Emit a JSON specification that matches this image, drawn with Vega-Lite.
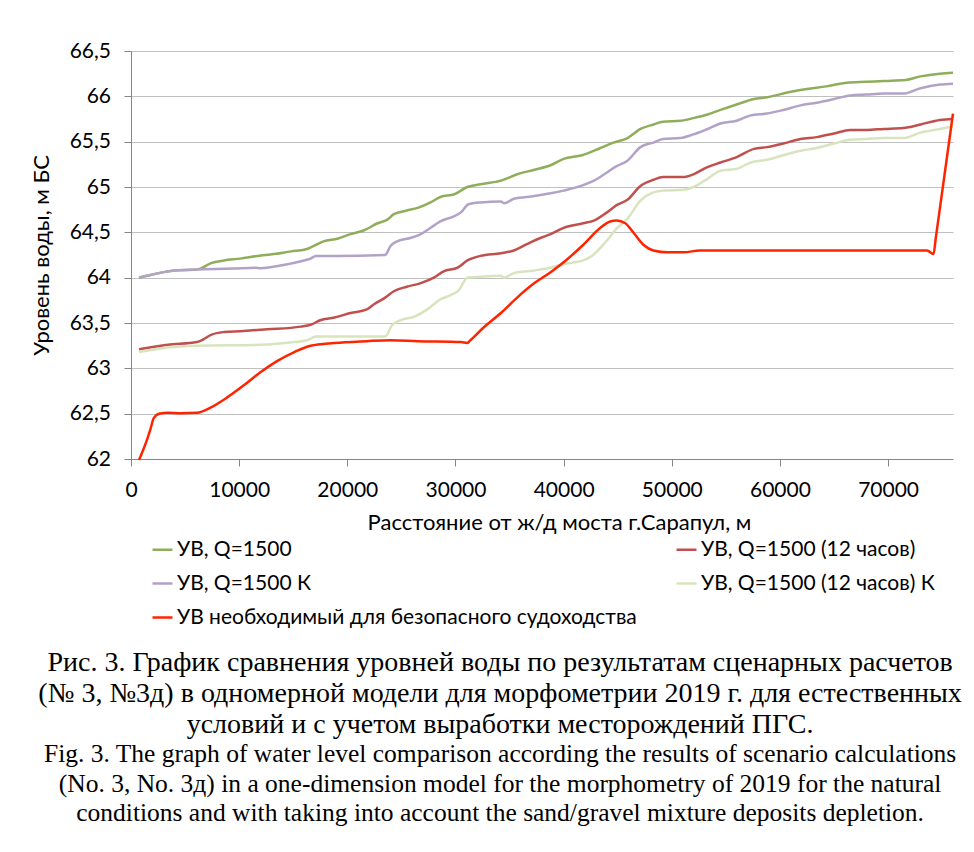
{
  "$schema": "https://vega.github.io/schema/vega-lite/v6.json",
  "width": 822,
  "height": 408,
  "padding": {"left": 30, "top": 40, "right": 12, "bottom": 10},
  "background": "white",
  "config": {
    "font": "Lato",
    "view": {"stroke": null},
    "axis": {"labelFont": "Lato", "titleFont": "Lato", "labelFontSize": 21, "titleFontSize": 22, "titleFontWeight": "normal", "labelColor": "#000000", "titleColor": "#000000"}
  },
  "title": {
    "text": ["Рис. 3. График сравнения уровней воды по результатам сценарных расчетов", "(№ 3, №3д) в одномерной модели для морфометрии 2019 г. для естественных", "условий и с учетом выработки месторождений ПГС."],
    "subtitle": ["Fig. 3. The graph of water level comparison according the results of scenario calculations", "(No. 3, No. 3д) in a one-dimension model for the morphometry of 2019 for the natural", "conditions and with taking into account the sand/gravel mixture deposits depletion."],
    "orient": "bottom",
    "anchor": "middle",
    "frame": "bounds",
    "dx": 6,
    "font": "Liberation Serif",
    "fontSize": 28,
    "fontWeight": "normal",
    "lineHeight": 31,
    "color": "#000000",
    "subtitleFont": "Liberation Serif",
    "subtitleFontSize": 25.5,
    "subtitleLineHeight": 29.5,
    "subtitleColor": "#000000",
    "subtitlePadding": 3,
    "offset": 1
  },
  "data": {
    "values": [
      {"s": "УВ, Q=1500", "x": 740, "y": 64.0},
      {"s": "УВ, Q=1500", "x": 1800, "y": 64.03},
      {"s": "УВ, Q=1500", "x": 4000, "y": 64.08},
      {"s": "УВ, Q=1500", "x": 6100, "y": 64.09},
      {"s": "УВ, Q=1500", "x": 6600, "y": 64.11},
      {"s": "УВ, Q=1500", "x": 7400, "y": 64.16},
      {"s": "УВ, Q=1500", "x": 8600, "y": 64.19},
      {"s": "УВ, Q=1500", "x": 10100, "y": 64.21},
      {"s": "УВ, Q=1500", "x": 11700, "y": 64.24},
      {"s": "УВ, Q=1500", "x": 13200, "y": 64.26},
      {"s": "УВ, Q=1500", "x": 14800, "y": 64.29},
      {"s": "УВ, Q=1500", "x": 16100, "y": 64.31},
      {"s": "УВ, Q=1500", "x": 16900, "y": 64.35},
      {"s": "УВ, Q=1500", "x": 17800, "y": 64.4},
      {"s": "УВ, Q=1500", "x": 19100, "y": 64.43},
      {"s": "УВ, Q=1500", "x": 20300, "y": 64.48},
      {"s": "УВ, Q=1500", "x": 21500, "y": 64.52},
      {"s": "УВ, Q=1500", "x": 22800, "y": 64.6},
      {"s": "УВ, Q=1500", "x": 23700, "y": 64.64},
      {"s": "УВ, Q=1500", "x": 24300, "y": 64.7},
      {"s": "УВ, Q=1500", "x": 25500, "y": 64.74},
      {"s": "УВ, Q=1500", "x": 26500, "y": 64.77},
      {"s": "УВ, Q=1500", "x": 27700, "y": 64.83},
      {"s": "УВ, Q=1500", "x": 28600, "y": 64.89},
      {"s": "УВ, Q=1500", "x": 29900, "y": 64.92},
      {"s": "УВ, Q=1500", "x": 31100, "y": 65.0},
      {"s": "УВ, Q=1500", "x": 32300, "y": 65.03},
      {"s": "УВ, Q=1500", "x": 34200, "y": 65.07},
      {"s": "УВ, Q=1500", "x": 35700, "y": 65.14},
      {"s": "УВ, Q=1500", "x": 37300, "y": 65.19},
      {"s": "УВ, Q=1500", "x": 38800, "y": 65.24},
      {"s": "УВ, Q=1500", "x": 40000, "y": 65.31},
      {"s": "УВ, Q=1500", "x": 41700, "y": 65.35},
      {"s": "УВ, Q=1500", "x": 43400, "y": 65.43},
      {"s": "УВ, Q=1500", "x": 44600, "y": 65.49},
      {"s": "УВ, Q=1500", "x": 45900, "y": 65.54},
      {"s": "УВ, Q=1500", "x": 47100, "y": 65.64},
      {"s": "УВ, Q=1500", "x": 48300, "y": 65.69},
      {"s": "УВ, Q=1500", "x": 49200, "y": 65.72},
      {"s": "УВ, Q=1500", "x": 50800, "y": 65.73},
      {"s": "УВ, Q=1500", "x": 52000, "y": 65.76},
      {"s": "УВ, Q=1500", "x": 53300, "y": 65.8},
      {"s": "УВ, Q=1500", "x": 54500, "y": 65.85},
      {"s": "УВ, Q=1500", "x": 56000, "y": 65.91},
      {"s": "УВ, Q=1500", "x": 57600, "y": 65.97},
      {"s": "УВ, Q=1500", "x": 58800, "y": 65.99},
      {"s": "УВ, Q=1500", "x": 61000, "y": 66.05},
      {"s": "УВ, Q=1500", "x": 62500, "y": 66.08},
      {"s": "УВ, Q=1500", "x": 64300, "y": 66.11},
      {"s": "УВ, Q=1500", "x": 66200, "y": 66.15},
      {"s": "УВ, Q=1500", "x": 68000, "y": 66.16},
      {"s": "УВ, Q=1500", "x": 69600, "y": 66.17},
      {"s": "УВ, Q=1500", "x": 71600, "y": 66.18},
      {"s": "УВ, Q=1500", "x": 73000, "y": 66.22},
      {"s": "УВ, Q=1500", "x": 74800, "y": 66.25},
      {"s": "УВ, Q=1500", "x": 76000, "y": 66.26},

      {"s": "УВ, Q=1500 (12 часов)", "x": 740, "y": 63.21},
      {"s": "УВ, Q=1500 (12 часов)", "x": 3400, "y": 63.26},
      {"s": "УВ, Q=1500 (12 часов)", "x": 6100, "y": 63.29},
      {"s": "УВ, Q=1500 (12 часов)", "x": 6700, "y": 63.32},
      {"s": "УВ, Q=1500 (12 часов)", "x": 7400, "y": 63.37},
      {"s": "УВ, Q=1500 (12 часов)", "x": 8600, "y": 63.4},
      {"s": "УВ, Q=1500 (12 часов)", "x": 10100, "y": 63.41},
      {"s": "УВ, Q=1500 (12 часов)", "x": 12600, "y": 63.43},
      {"s": "УВ, Q=1500 (12 часов)", "x": 15700, "y": 63.46},
      {"s": "УВ, Q=1500 (12 часов)", "x": 16600, "y": 63.48},
      {"s": "УВ, Q=1500 (12 часов)", "x": 17500, "y": 63.53},
      {"s": "УВ, Q=1500 (12 часов)", "x": 18800, "y": 63.56},
      {"s": "УВ, Q=1500 (12 часов)", "x": 20300, "y": 63.61},
      {"s": "УВ, Q=1500 (12 часов)", "x": 21800, "y": 63.65},
      {"s": "УВ, Q=1500 (12 часов)", "x": 22500, "y": 63.71},
      {"s": "УВ, Q=1500 (12 часов)", "x": 23500, "y": 63.78},
      {"s": "УВ, Q=1500 (12 часов)", "x": 24300, "y": 63.85},
      {"s": "УВ, Q=1500 (12 часов)", "x": 25500, "y": 63.9},
      {"s": "УВ, Q=1500 (12 часов)", "x": 26800, "y": 63.94},
      {"s": "УВ, Q=1500 (12 часов)", "x": 28000, "y": 64.0},
      {"s": "УВ, Q=1500 (12 часов)", "x": 28900, "y": 64.07},
      {"s": "УВ, Q=1500 (12 часов)", "x": 30200, "y": 64.11},
      {"s": "УВ, Q=1500 (12 часов)", "x": 31100, "y": 64.19},
      {"s": "УВ, Q=1500 (12 часов)", "x": 32300, "y": 64.24},
      {"s": "УВ, Q=1500 (12 часов)", "x": 34200, "y": 64.27},
      {"s": "УВ, Q=1500 (12 часов)", "x": 35400, "y": 64.3},
      {"s": "УВ, Q=1500 (12 часов)", "x": 36600, "y": 64.37},
      {"s": "УВ, Q=1500 (12 часов)", "x": 37900, "y": 64.44},
      {"s": "УВ, Q=1500 (12 часов)", "x": 38800, "y": 64.48},
      {"s": "УВ, Q=1500 (12 часов)", "x": 40000, "y": 64.55},
      {"s": "УВ, Q=1500 (12 часов)", "x": 41800, "y": 64.6},
      {"s": "УВ, Q=1500 (12 часов)", "x": 42800, "y": 64.63},
      {"s": "УВ, Q=1500 (12 часов)", "x": 44000, "y": 64.72},
      {"s": "УВ, Q=1500 (12 часов)", "x": 44900, "y": 64.8},
      {"s": "УВ, Q=1500 (12 часов)", "x": 45900, "y": 64.86},
      {"s": "УВ, Q=1500 (12 часов)", "x": 47100, "y": 65.01},
      {"s": "УВ, Q=1500 (12 часов)", "x": 48300, "y": 65.08},
      {"s": "УВ, Q=1500 (12 часов)", "x": 49200, "y": 65.11},
      {"s": "УВ, Q=1500 (12 часов)", "x": 51100, "y": 65.11},
      {"s": "УВ, Q=1500 (12 часов)", "x": 52000, "y": 65.14},
      {"s": "УВ, Q=1500 (12 часов)", "x": 53300, "y": 65.22},
      {"s": "УВ, Q=1500 (12 часов)", "x": 54500, "y": 65.27},
      {"s": "УВ, Q=1500 (12 часов)", "x": 56000, "y": 65.33},
      {"s": "УВ, Q=1500 (12 часов)", "x": 57600, "y": 65.42},
      {"s": "УВ, Q=1500 (12 часов)", "x": 58800, "y": 65.44},
      {"s": "УВ, Q=1500 (12 часов)", "x": 60300, "y": 65.48},
      {"s": "УВ, Q=1500 (12 часов)", "x": 61900, "y": 65.53},
      {"s": "УВ, Q=1500 (12 часов)", "x": 63400, "y": 65.55},
      {"s": "УВ, Q=1500 (12 часов)", "x": 65000, "y": 65.59},
      {"s": "УВ, Q=1500 (12 часов)", "x": 66500, "y": 65.63},
      {"s": "УВ, Q=1500 (12 часов)", "x": 68000, "y": 65.63},
      {"s": "УВ, Q=1500 (12 часов)", "x": 69600, "y": 65.64},
      {"s": "УВ, Q=1500 (12 часов)", "x": 71400, "y": 65.65},
      {"s": "УВ, Q=1500 (12 часов)", "x": 73000, "y": 65.69},
      {"s": "УВ, Q=1500 (12 часов)", "x": 74800, "y": 65.74},
      {"s": "УВ, Q=1500 (12 часов)", "x": 76000, "y": 65.75},

      {"s": "УВ, Q=1500 К", "x": 740, "y": 64.0},
      {"s": "УВ, Q=1500 К", "x": 1800, "y": 64.03},
      {"s": "УВ, Q=1500 К", "x": 4000, "y": 64.08},
      {"s": "УВ, Q=1500 К", "x": 6100, "y": 64.09},
      {"s": "УВ, Q=1500 К", "x": 9500, "y": 64.1},
      {"s": "УВ, Q=1500 К", "x": 11500, "y": 64.11},
      {"s": "УВ, Q=1500 К", "x": 12000, "y": 64.105},
      {"s": "УВ, Q=1500 К", "x": 14100, "y": 64.14},
      {"s": "УВ, Q=1500 К", "x": 16000, "y": 64.19},
      {"s": "УВ, Q=1500 К", "x": 16600, "y": 64.21},
      {"s": "УВ, Q=1500 К", "x": 17100, "y": 64.24},
      {"s": "УВ, Q=1500 К", "x": 18800, "y": 64.24},
      {"s": "УВ, Q=1500 К", "x": 23500, "y": 64.25},
      {"s": "УВ, Q=1500 К", "x": 24000, "y": 64.35},
      {"s": "УВ, Q=1500 К", "x": 24600, "y": 64.4},
      {"s": "УВ, Q=1500 К", "x": 25900, "y": 64.44},
      {"s": "УВ, Q=1500 К", "x": 26800, "y": 64.48},
      {"s": "УВ, Q=1500 К", "x": 27700, "y": 64.55},
      {"s": "УВ, Q=1500 К", "x": 28600, "y": 64.62},
      {"s": "УВ, Q=1500 К", "x": 29900, "y": 64.68},
      {"s": "УВ, Q=1500 К", "x": 30500, "y": 64.72},
      {"s": "УВ, Q=1500 К", "x": 31200, "y": 64.81},
      {"s": "УВ, Q=1500 К", "x": 32300, "y": 64.83},
      {"s": "УВ, Q=1500 К", "x": 34200, "y": 64.84},
      {"s": "УВ, Q=1500 К", "x": 34500, "y": 64.82},
      {"s": "УВ, Q=1500 К", "x": 35400, "y": 64.87},
      {"s": "УВ, Q=1500 К", "x": 37300, "y": 64.9},
      {"s": "УВ, Q=1500 К", "x": 38800, "y": 64.93},
      {"s": "УВ, Q=1500 К", "x": 40000, "y": 64.96},
      {"s": "УВ, Q=1500 К", "x": 41800, "y": 65.02},
      {"s": "УВ, Q=1500 К", "x": 42800, "y": 65.07},
      {"s": "УВ, Q=1500 К", "x": 44000, "y": 65.16},
      {"s": "УВ, Q=1500 К", "x": 44900, "y": 65.23},
      {"s": "УВ, Q=1500 К", "x": 45900, "y": 65.29},
      {"s": "УВ, Q=1500 К", "x": 47100, "y": 65.44},
      {"s": "УВ, Q=1500 К", "x": 48300, "y": 65.49},
      {"s": "УВ, Q=1500 К", "x": 49200, "y": 65.53},
      {"s": "УВ, Q=1500 К", "x": 50800, "y": 65.54},
      {"s": "УВ, Q=1500 К", "x": 52000, "y": 65.58},
      {"s": "УВ, Q=1500 К", "x": 53300, "y": 65.64},
      {"s": "УВ, Q=1500 К", "x": 54500, "y": 65.7},
      {"s": "УВ, Q=1500 К", "x": 56000, "y": 65.73},
      {"s": "УВ, Q=1500 К", "x": 57300, "y": 65.79},
      {"s": "УВ, Q=1500 К", "x": 58800, "y": 65.81},
      {"s": "УВ, Q=1500 К", "x": 60300, "y": 65.85},
      {"s": "УВ, Q=1500 К", "x": 61900, "y": 65.9},
      {"s": "УВ, Q=1500 К", "x": 63400, "y": 65.93},
      {"s": "УВ, Q=1500 К", "x": 65000, "y": 65.97},
      {"s": "УВ, Q=1500 К", "x": 66500, "y": 66.01},
      {"s": "УВ, Q=1500 К", "x": 68000, "y": 66.02},
      {"s": "УВ, Q=1500 К", "x": 69600, "y": 66.03},
      {"s": "УВ, Q=1500 К", "x": 71400, "y": 66.03},
      {"s": "УВ, Q=1500 К", "x": 73000, "y": 66.09},
      {"s": "УВ, Q=1500 К", "x": 74800, "y": 66.13},
      {"s": "УВ, Q=1500 К", "x": 76000, "y": 66.14},

      {"s": "УВ, Q=1500 (12 часов) К", "x": 740, "y": 63.18},
      {"s": "УВ, Q=1500 (12 часов) К", "x": 3400, "y": 63.23},
      {"s": "УВ, Q=1500 (12 часов) К", "x": 6100, "y": 63.25},
      {"s": "УВ, Q=1500 (12 часов) К", "x": 12000, "y": 63.26},
      {"s": "УВ, Q=1500 (12 часов) К", "x": 15100, "y": 63.29},
      {"s": "УВ, Q=1500 (12 часов) К", "x": 16300, "y": 63.31},
      {"s": "УВ, Q=1500 (12 часов) К", "x": 17100, "y": 63.35},
      {"s": "УВ, Q=1500 (12 часов) К", "x": 23500, "y": 63.35},
      {"s": "УВ, Q=1500 (12 часов) К", "x": 24100, "y": 63.47},
      {"s": "УВ, Q=1500 (12 часов) К", "x": 24900, "y": 63.53},
      {"s": "УВ, Q=1500 (12 часов) К", "x": 26200, "y": 63.57},
      {"s": "УВ, Q=1500 (12 часов) К", "x": 27400, "y": 63.65},
      {"s": "УВ, Q=1500 (12 часов) К", "x": 28600, "y": 63.76},
      {"s": "УВ, Q=1500 (12 часов) К", "x": 29600, "y": 63.81},
      {"s": "УВ, Q=1500 (12 часов) К", "x": 30300, "y": 63.86},
      {"s": "УВ, Q=1500 (12 часов) К", "x": 31100, "y": 64.0},
      {"s": "УВ, Q=1500 (12 часов) К", "x": 32300, "y": 64.01},
      {"s": "УВ, Q=1500 (12 часов) К", "x": 34200, "y": 64.02},
      {"s": "УВ, Q=1500 (12 часов) К", "x": 34500, "y": 64.0},
      {"s": "УВ, Q=1500 (12 часов) К", "x": 35400, "y": 64.05},
      {"s": "УВ, Q=1500 (12 часов) К", "x": 37300, "y": 64.08},
      {"s": "УВ, Q=1500 (12 часов) К", "x": 38800, "y": 64.11},
      {"s": "УВ, Q=1500 (12 часов) К", "x": 40000, "y": 64.15},
      {"s": "УВ, Q=1500 (12 часов) К", "x": 41800, "y": 64.19},
      {"s": "УВ, Q=1500 (12 часов) К", "x": 42600, "y": 64.24},
      {"s": "УВ, Q=1500 (12 часов) К", "x": 44000, "y": 64.41},
      {"s": "УВ, Q=1500 (12 часов) К", "x": 44900, "y": 64.54},
      {"s": "УВ, Q=1500 (12 часов) К", "x": 45900, "y": 64.65},
      {"s": "УВ, Q=1500 (12 часов) К", "x": 47100, "y": 64.85},
      {"s": "УВ, Q=1500 (12 часов) К", "x": 48300, "y": 64.94},
      {"s": "УВ, Q=1500 (12 часов) К", "x": 49200, "y": 64.96},
      {"s": "УВ, Q=1500 (12 часов) К", "x": 51100, "y": 64.97},
      {"s": "УВ, Q=1500 (12 часов) К", "x": 52000, "y": 65.0},
      {"s": "УВ, Q=1500 (12 часов) К", "x": 53300, "y": 65.09},
      {"s": "УВ, Q=1500 (12 часов) К", "x": 54500, "y": 65.18},
      {"s": "УВ, Q=1500 (12 часов) К", "x": 56000, "y": 65.2},
      {"s": "УВ, Q=1500 (12 часов) К", "x": 57300, "y": 65.27},
      {"s": "УВ, Q=1500 (12 часов) К", "x": 58800, "y": 65.3},
      {"s": "УВ, Q=1500 (12 часов) К", "x": 60300, "y": 65.35},
      {"s": "УВ, Q=1500 (12 часов) К", "x": 61900, "y": 65.4},
      {"s": "УВ, Q=1500 (12 часов) К", "x": 63400, "y": 65.43},
      {"s": "УВ, Q=1500 (12 часов) К", "x": 65000, "y": 65.48},
      {"s": "УВ, Q=1500 (12 часов) К", "x": 66500, "y": 65.52},
      {"s": "УВ, Q=1500 (12 часов) К", "x": 68000, "y": 65.53},
      {"s": "УВ, Q=1500 (12 часов) К", "x": 69600, "y": 65.54},
      {"s": "УВ, Q=1500 (12 часов) К", "x": 71400, "y": 65.54},
      {"s": "УВ, Q=1500 (12 часов) К", "x": 73000, "y": 65.6},
      {"s": "УВ, Q=1500 (12 часов) К", "x": 74800, "y": 65.64},
      {"s": "УВ, Q=1500 (12 часов) К", "x": 76000, "y": 65.67},

      {"s": "УВ необходимый для безопасного судоходства", "x": 740, "y": 61.99},
      {"s": "УВ необходимый для безопасного судоходства", "x": 1500, "y": 62.22},
      {"s": "УВ необходимый для безопасного судоходства", "x": 1800, "y": 62.33},
      {"s": "УВ необходимый для безопасного судоходства", "x": 2100, "y": 62.45},
      {"s": "УВ необходимый для безопасного судоходства", "x": 2600, "y": 62.5},
      {"s": "УВ необходимый для безопасного судоходства", "x": 3400, "y": 62.51},
      {"s": "УВ необходимый для безопасного судоходства", "x": 4600, "y": 62.505},
      {"s": "УВ необходимый для безопасного судоходства", "x": 6100, "y": 62.51},
      {"s": "УВ необходимый для безопасного судоходства", "x": 7400, "y": 62.57},
      {"s": "УВ необходимый для безопасного судоходства", "x": 8900, "y": 62.68},
      {"s": "УВ необходимый для безопасного судоходства", "x": 10400, "y": 62.81},
      {"s": "УВ необходимый для безопасного судоходства", "x": 12000, "y": 62.96},
      {"s": "УВ необходимый для безопасного судоходства", "x": 13500, "y": 63.08},
      {"s": "УВ необходимый для безопасного судоходства", "x": 15100, "y": 63.18},
      {"s": "УВ необходимый для безопасного судоходства", "x": 16600, "y": 63.25},
      {"s": "УВ необходимый для безопасного судоходства", "x": 18800, "y": 63.28},
      {"s": "УВ необходимый для безопасного судоходства", "x": 21800, "y": 63.3},
      {"s": "УВ необходимый для безопасного судоходства", "x": 24000, "y": 63.31},
      {"s": "УВ необходимый для безопасного судоходства", "x": 26500, "y": 63.3},
      {"s": "УВ необходимый для безопасного судоходства", "x": 30500, "y": 63.29},
      {"s": "УВ необходимый для безопасного судоходства", "x": 31100, "y": 63.28},
      {"s": "УВ необходимый для безопасного судоходства", "x": 31300, "y": 63.3},
      {"s": "УВ необходимый для безопасного судоходства", "x": 32600, "y": 63.45},
      {"s": "УВ необходимый для безопасного судоходства", "x": 34200, "y": 63.61},
      {"s": "УВ необходимый для безопасного судоходства", "x": 35700, "y": 63.78},
      {"s": "УВ необходимый для безопасного судоходства", "x": 37300, "y": 63.94},
      {"s": "УВ необходимый для безопасного судоходства", "x": 38800, "y": 64.06},
      {"s": "УВ необходимый для безопасного судоходства", "x": 40000, "y": 64.17},
      {"s": "УВ необходимый для безопасного судоходства", "x": 41800, "y": 64.36},
      {"s": "УВ необходимый для безопасного судоходства", "x": 43400, "y": 64.55},
      {"s": "УВ необходимый для безопасного судоходства", "x": 44300, "y": 64.62},
      {"s": "УВ необходимый для безопасного судоходства", "x": 44900, "y": 64.63},
      {"s": "УВ необходимый для безопасного судоходства", "x": 45700, "y": 64.6},
      {"s": "УВ необходимый для безопасного судоходства", "x": 46500, "y": 64.49},
      {"s": "УВ необходимый для безопасного судоходства", "x": 47400, "y": 64.36},
      {"s": "УВ необходимый для безопасного судоходства", "x": 48300, "y": 64.3},
      {"s": "УВ необходимый для безопасного судоходства", "x": 49600, "y": 64.28},
      {"s": "УВ необходимый для безопасного судоходства", "x": 51100, "y": 64.28},
      {"s": "УВ необходимый для безопасного судоходства", "x": 52600, "y": 64.3},
      {"s": "УВ необходимый для безопасного судоходства", "x": 73600, "y": 64.3},
      {"s": "УВ необходимый для безопасного судоходства", "x": 74200, "y": 64.26},
      {"s": "УВ необходимый для безопасного судоходства", "x": 74400, "y": 64.43},
      {"s": "УВ необходимый для безопасного судоходства", "x": 76000, "y": 65.81}
    ]
  },
  "mark": {"type": "line", "strokeWidth": 2.5, "interpolate": "monotone"},
  "encoding": {
    "x": {
      "field": "x", "type": "quantitative",
      "scale": {"domain": [0, 76000], "nice": false, "zero": false},
      "axis": {
        "title": "Расстояние от ж/д моста г.Сарапул, м",
        "values": [0, 10000, 20000, 30000, 40000, 50000, 60000, 70000],
        "format": "d",
        "grid": false,
        "domainColor": "#868686",
        "tickColor": "#868686",
        "tickSize": 7,
        "labelPadding": 13,
        "titlePadding": 12,
        "titleX": 428,
        "titleAlign": "center",
        "labelFlush": false
      }
    },
    "y": {
      "field": "y", "type": "quantitative",
      "scale": {"domain": [62, 66.5], "nice": false, "zero": false},
      "axis": {
        "title": "Уровень воды, м БС",
        "values": [62, 62.5, 63, 63.5, 64, 64.5, 65, 65.5, 66, 66.5],
        "labelExpr": "replace(toString(datum.value), '.', ',')",
        "grid": true,
        "gridColor": "#c0c0c0",
        "gridWidth": 1,
        "domainColor": "#868686",
        "tickColor": "#868686",
        "tickSize": 7,
        "labelPadding": 13.5,
        "titlePadding": 16,
        "labelFlush": false
      }
    },
    "color": {
      "field": "s", "type": "nominal",
      "scale": {
        "domain": ["УВ, Q=1500", "УВ, Q=1500 (12 часов)", "УВ, Q=1500 К", "УВ, Q=1500 (12 часов) К", "УВ необходимый для безопасного судоходства"],
        "range": ["#8FAE5B", "#C0504D", "#B3A2C7", "#D7E4BD", "#FF2400"]
      },
      "legend": {
        "title": null,
        "orient": "bottom",
        "columns": 2,
        "direction": "horizontal",
        "symbolType": "stroke",
        "symbolSize": 400,
        "symbolStrokeWidth": 2.5,
        "labelFont": "Lato",
        "labelFontSize": 21,
        "labelColor": "#000000",
        "labelLimit": 600,
        "labelOffset": 3,
        "rowPadding": 12,
        "columnPadding": 34,
        "padding": 20,
        "offset": -15
      }
    }
  }
}
